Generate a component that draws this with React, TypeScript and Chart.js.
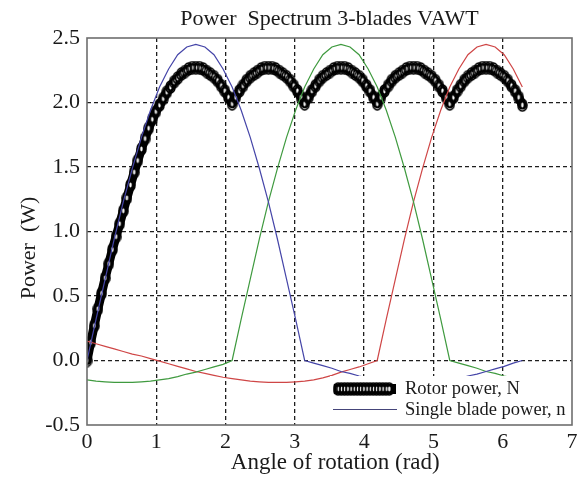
import React, { useEffect, useRef } from 'react';
import { Chart, registerables } from 'chart.js';

Chart.register(...registerables);

// sampling steps of the angle (rad)
const ROTOR_STEP = Math.PI / 60;
const BLADE_STEP = Math.PI / 24;

// Rotor power N (sum of blades), sampled every pi/60 rad from 0 to 2*pi
const rotorPower = [
  0.00, 0.14, 0.27, 0.40, 0.52, 0.64, 0.75, 0.86, 0.96, 1.06, 1.16,
  1.26, 1.36, 1.46, 1.55, 1.64, 1.72, 1.80, 1.87, 1.93, 1.98,
  2.03, 2.08, 2.12, 2.16, 2.19, 2.22, 2.24, 2.26, 2.27, 2.27,
  2.27, 2.26, 2.24, 2.22, 2.20, 2.17, 2.13, 2.09, 2.04, 1.99,
  2.04, 2.09, 2.13, 2.17, 2.20, 2.22, 2.24, 2.26, 2.27, 2.27,
  2.27, 2.26, 2.24, 2.22, 2.20, 2.17, 2.13, 2.09, 2.04, 1.99,
  2.04, 2.09, 2.13, 2.17, 2.20, 2.22, 2.24, 2.26, 2.27, 2.27,
  2.27, 2.26, 2.24, 2.22, 2.20, 2.17, 2.13, 2.09, 2.04, 1.99,
  2.04, 2.09, 2.13, 2.17, 2.20, 2.22, 2.24, 2.26, 2.27, 2.27,
  2.27, 2.26, 2.24, 2.22, 2.20, 2.17, 2.13, 2.09, 2.04, 1.99,
  2.04, 2.09, 2.13, 2.17, 2.20, 2.22, 2.24, 2.26, 2.27, 2.27,
  2.27, 2.26, 2.24, 2.22, 2.20, 2.17, 2.13, 2.09, 2.04, 1.98,
];

// Single blade power n, blade 1 (blue), sampled every pi/24 rad
const blade1 = [
  0.00, 0.32, 0.63, 0.94, 1.23, 1.49, 1.73, 1.94, 2.12, 2.26, 2.37, 2.43, 2.45,
  2.43, 2.37, 2.26, 2.12, 1.94, 1.73, 1.49, 1.23, 0.94, 0.63, 0.32, 0.00,
  -0.02, -0.04, -0.06, -0.085, -0.10, -0.12, -0.135, -0.15, -0.16, -0.165, -0.17, -0.17,
  -0.17, -0.165, -0.16, -0.15, -0.14, -0.12, -0.105, -0.085, -0.065, -0.045, -0.02, 0.00,
];

// blade 2 (green)
const blade2 = [
  -0.15, -0.16, -0.165, -0.17, -0.17, -0.17, -0.165, -0.16, -0.15, -0.14, -0.125, -0.105, -0.09,
  -0.07, -0.05, -0.03, 0.00,
  0.32, 0.63, 0.94, 1.23, 1.49, 1.73, 1.94, 2.12, 2.26, 2.37, 2.43, 2.45,
  2.43, 2.37, 2.26, 2.12, 1.94, 1.73, 1.49, 1.23, 0.94, 0.63, 0.32, 0.00,
  -0.02, -0.04, -0.06, -0.085, -0.10, -0.12, -0.135, -0.15,
];

// blade 3 (red)
const blade3 = [
  0.15, 0.13, 0.11, 0.09, 0.07, 0.05, 0.035, 0.015, -0.005, -0.025, -0.045, -0.065, -0.085,
  -0.10, -0.115, -0.13, -0.14, -0.15, -0.16, -0.165, -0.17, -0.17, -0.17, -0.165, -0.16,
  -0.15, -0.135, -0.115, -0.09, -0.07, -0.05, -0.025, 0.00,
  0.32, 0.63, 0.94, 1.23, 1.49, 1.73, 1.94, 2.12, 2.26, 2.37, 2.43, 2.45,
  2.43, 2.37, 2.26, 2.12,
];

const xTicks = [0, 1, 2, 3, 4, 5, 6, 7];
const yTicks = [-0.5, 0.0, 0.5, 1.0, 1.5, 2.0, 2.5];
const yTickLabels = ['-0.5', '0.0', '0.5', '1.0', '1.5', '2.0', '2.5'];

const TITLE = 'Power  Spectrum 3-blades VAWT';
const X_TITLE = '  Angle of rotation (rad)';
const Y_TITLE = 'Power  (W)      ';
const LEGEND_ROTOR = 'Rotor power, N';
const LEGEND_BLADE = 'Single blade power, n';

const SERIF = '"Liberation Serif", "Times New Roman", serif';

function toPoints(values: number[], step: number) {
  return values.map((v, i) => ({ x: i * step, y: v }));
}

function makeMarker(): HTMLCanvasElement {
  const c = document.createElement('canvas');
  c.width = 11;
  c.height = 14;
  const g = c.getContext('2d')!;
  g.lineWidth = 1.6;
  g.strokeStyle = '#000';
  g.beginPath();
  g.ellipse(5.5, 7, 4.5, 6, 0, 0, Math.PI * 2);
  g.stroke();
  g.fillStyle = '#ffffff';
  g.beginPath();
  g.ellipse(5.5, 7, 1.2, 2.4, 0, 0, Math.PI * 2);
  g.fill();
  return c;
}

export default function App() {
  const ref = useRef<HTMLCanvasElement | null>(null);

  useEffect(() => {
    if (!ref.current) return;
    const marker = makeMarker();

    const framePlugin = {
      id: 'frameLegend',
      afterDatasetsDraw(chart: any) {
        const { ctx, chartArea } = chart;
        const { left, top, right, bottom } = chartArea;
        ctx.save();
        // legend box
        const lx = left + 243;
        const ly = top + 338;
        ctx.fillStyle = '#ffffff';
        ctx.fillRect(lx, ly, right - lx, bottom - ly);
        // rotor sample
        ctx.fillStyle = '#000';
        ctx.fillRect(lx + 4, ly + 8, 62, 10);
        for (let x = lx + 8; x <= lx + 62; x += 3.2) {
          ctx.drawImage(marker, x - 5.5, ly + 13 - 7);
        }
        // blade sample
        ctx.strokeStyle = '#45457a';
        ctx.lineWidth = 1.2;
        ctx.beginPath();
        ctx.moveTo(lx + 3, ly + 33.5);
        ctx.lineTo(lx + 67, ly + 33.5);
        ctx.stroke();
        ctx.fillStyle = '#1a1a1a';
        ctx.font = `18.5px ${SERIF}`;
        ctx.textBaseline = 'middle';
        ctx.textAlign = 'left';
        ctx.fillText(LEGEND_ROTOR, lx + 75, ly + 13);
        ctx.fillText(LEGEND_BLADE, lx + 75, ly + 34);
        // frame
        ctx.strokeStyle = '#6e6e6e';
        ctx.lineWidth = 1.6;
        ctx.strokeRect(left, top, right - left, bottom - top);
        ctx.restore();
      },
    };

    const gridColor = (edgeA: number, edgeB: number) => (c: any) => {
      const v = c.tick ? c.tick.value : null;
      if (v === edgeA || v === edgeB) return 'rgba(0,0,0,0)';
      return '#1e1e1e';
    };

    const chart = new Chart(ref.current, {
      type: 'line',
      data: {
        datasets: [
          {
            label: 'blade 1',
            data: toPoints(blade1, BLADE_STEP),
            borderColor: '#4545a8',
            borderWidth: 1.2,
            pointRadius: 0,
            tension: 0,
          },
          {
            label: 'blade 2',
            data: toPoints(blade2, BLADE_STEP),
            borderColor: '#3f9a3f',
            borderWidth: 1.2,
            pointRadius: 0,
            tension: 0,
          },
          {
            label: 'blade 3',
            data: toPoints(blade3, BLADE_STEP),
            borderColor: '#cf4646',
            borderWidth: 1.2,
            pointRadius: 0,
            tension: 0,
          },
          {
            label: LEGEND_ROTOR,
            data: toPoints(rotorPower, ROTOR_STEP),
            showLine: true,
            borderColor: '#000000',
            borderWidth: 9,
            borderJoinStyle: 'round',
            borderCapStyle: 'round',
            tension: 0,
            pointStyle: marker as any,
            pointRadius: 5,
            clip: 0 as any,
          },
        ],
      },
      options: {
        animation: false,
        responsive: false,
        devicePixelRatio: 1,
        events: [],
        layout: { padding: { left: 0, right: 8, top: 0, bottom: 0 } },
        plugins: {
          legend: { display: false },
          tooltip: { enabled: false },
          title: {
            display: true,
            text: TITLE,
            fullSize: false,
            color: '#1a1a1a',
            font: { family: SERIF, size: 22, weight: 'normal' },
            padding: { top: 6, bottom: 5.6 },
          },
        },
        scales: {
          x: {
            type: 'linear',
            min: 0,
            max: 7,
            afterFit: (s: any) => { s.height = 52; },
            afterBuildTicks: (s: any) => { s.ticks = xTicks.map((v) => ({ value: v })); },
            ticks: {
              color: '#1a1a1a',
              padding: 4,
              font: { family: SERIF, size: 22 },
              callback: (_v: any, i: number) => String(xTicks[i]),
              maxRotation: 0,
            },
            grid: { color: gridColor(0, 7), lineWidth: 1.3, drawTicks: false },
            border: { display: false, dash: [4, 3] },
            title: {
              display: true,
              text: X_TITLE,
              color: '#1a1a1a',
              font: { family: SERIF, size: 23 },
              padding: { top: 0, bottom: 0 },
            },
          },
          y: {
            type: 'linear',
            min: -0.5,
            max: 2.5,
            afterFit: (s: any) => { s.width = 87; },
            afterBuildTicks: (s: any) => { s.ticks = yTicks.map((v) => ({ value: v })); },
            ticks: {
              color: '#1a1a1a',
              padding: 7,
              font: { family: SERIF, size: 22 },
              callback: (_v: any, i: number) => yTickLabels[i],
            },
            grid: { color: gridColor(-0.5, 2.5), lineWidth: 1.3, drawTicks: false },
            border: { display: false, dash: [4, 3] },
            title: {
              display: true,
              text: Y_TITLE,
              color: '#1a1a1a',
              font: { family: SERIF, size: 22 },
              padding: { top: 16, bottom: 0 },
            },
          },
        },
      },
      plugins: [framePlugin],
    } as any);

    return () => chart.destroy();
  }, []);

  return (
    <div style={{ position: 'absolute', left: 0, top: 0, width: 586, height: 477, background: '#fff' }}>
      <canvas ref={ref} width={586} height={477} style={{ width: 586, height: 477, display: 'block' }} />
    </div>
  );
}
